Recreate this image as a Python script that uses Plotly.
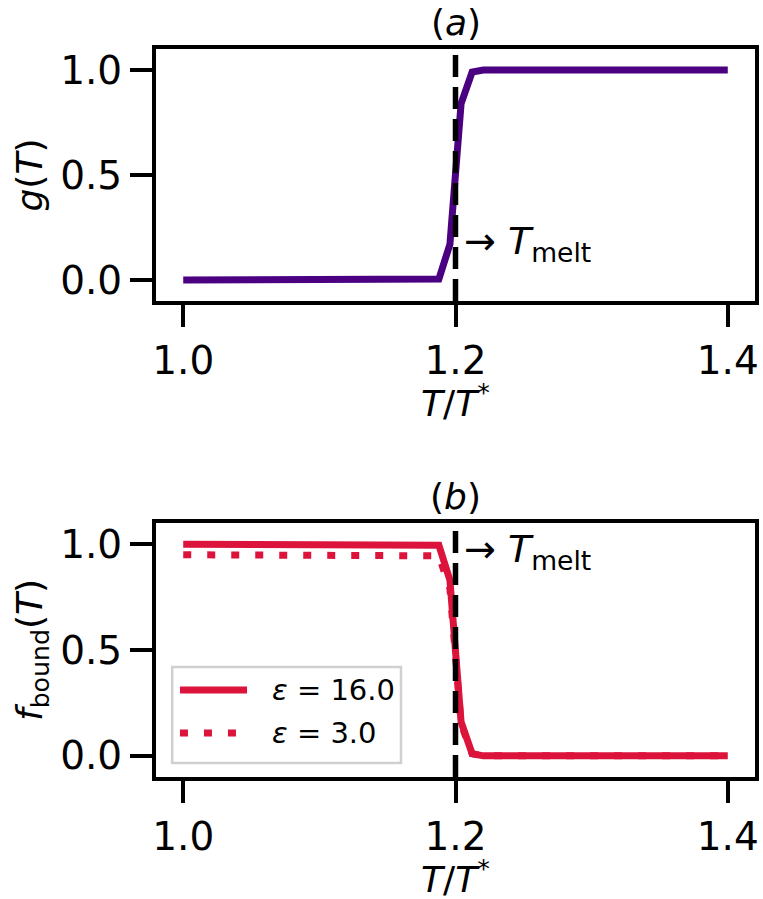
import plotly.graph_objects as go
from plotly.subplots import make_subplots

# values
t_ratio = [1.0, 1.1878, 1.1959, 1.2041, 1.2122, 1.2204, 1.4]
g_T = [0.0, 0.005, 0.17, 0.84, 0.99, 1.0, 1.0]
f_bound_eps16 = [1.0, 0.995, 0.83, 0.16, 0.01, 0.0, 0.0]
f_bound_eps3 = [0.95, 0.945, 0.79, 0.15, 0.01, 0.0, 0.0]

t_melt = 1.2
x_ticks = [1.0, 1.2, 1.4]
y_ticks = [0.0, 0.5, 1.0]
legend_labels = ["<i>ε</i> = 16.0", "<i>ε</i> = 3.0"]

PURPLE = "#4B0082"
RED = "#DC143C"
FONT = "DejaVu Sans"
DOTS = "8px,16px"

fig = make_subplots(rows=2, cols=1, vertical_spacing=0.3)

fig.add_trace(
    go.Scatter(x=t_ratio, y=g_T, mode="lines", line=dict(color=PURPLE, width=7),
               showlegend=False),
    row=1, col=1,
)
fig.add_trace(
    go.Scatter(x=t_ratio, y=f_bound_eps3, mode="lines",
               line=dict(color=RED, width=7, dash=DOTS),
               name=legend_labels[1], showlegend=False),
    row=2, col=1,
)
fig.add_trace(
    go.Scatter(x=t_ratio, y=f_bound_eps16, mode="lines",
               line=dict(color=RED, width=7),
               name=legend_labels[0], showlegend=False),
    row=2, col=1,
)

axis_style = dict(
    showline=True, linecolor="black", linewidth=4, mirror=True,
    ticks="outside", ticklen=22, tickwidth=4, tickcolor="black",
    showgrid=False, zeroline=False, automargin=False,
    tickfont=dict(family=FONT, size=39, color="black"),
)

for r in (1, 2):
    fig.update_xaxes(range=[0.98, 1.42], tickvals=x_ticks, tickformat=".1f",
                     row=r, col=1, **axis_style)
    fig.update_yaxes(range=[-0.1, 1.1], tickvals=y_ticks, tickformat=".1f",
                     row=r, col=1, **axis_style)
    fig.add_vline(x=t_melt, line=dict(color="black", width=5.5, dash="22px,10px"),
                  row=r, col=1)

fig.update_yaxes(title=dict(text="<i>g</i>(<i>T</i>)", standoff=8,
                            font=dict(family=FONT, size=36, color="black")),
                 row=1, col=1)
fig.update_yaxes(title=dict(text="<i>f</i><sub>bound</sub>(<i>T</i>)", standoff=8,
                            font=dict(family=FONT, size=36, color="black")),
                 row=2, col=1)

fig.update_layout(
    width=763, height=899,
    margin=dict(l=156, r=8, t=49, b=122, autoexpand=False),
    plot_bgcolor="white", paper_bgcolor="white",
    font=dict(family=FONT, color="black"),
    showlegend=False,
    xaxis=dict(domain=[0, 1]),
    yaxis=dict(domain=[0.6538, 1.0]),
    yaxis2=dict(domain=[0.0, 0.3489]),
)

# panel titles and x-axis titles
for label, xr, yr in [("(<i>a</i>)", "x domain", "y domain"), ("(<i>b</i>)", "x2 domain", "y2 domain")]:
    fig.add_annotation(text=label, xref=xr, yref=yr, x=0.5, y=1.0, yshift=27,
                       xanchor="center", yanchor="middle", showarrow=False,
                       font=dict(family=FONT, size=36, color="black"))
    fig.add_annotation(text="<i>T</i>/<i>T</i><sup>*</sup>", xref=xr, yref=yr,
                       x=0.5, y=0.0, yshift=-100, xanchor="center", yanchor="middle",
                       showarrow=False, font=dict(family=FONT, size=36, color="black"))

fig.add_annotation(text="→ <i>T</i><sub>melt</sub>", xref="x", yref="y",
                   x=t_melt, y=0.176, xanchor="left", yanchor="middle", xshift=6,
                   showarrow=False, font=dict(family=FONT, size=38, color="black"))
fig.add_annotation(text="→ <i>T</i><sub>melt</sub>", xref="x2", yref="y2",
                   x=t_melt, y=0.967, xanchor="left", yanchor="middle", xshift=6,
                   showarrow=False, font=dict(family=FONT, size=38, color="black"))

# legend box drawn in the lower panel
fig.add_shape(type="rect", xref="x2 domain", yref="y2 domain",
              x0=0.027, x1=0.409, y0=0.055, y1=0.433,
              line=dict(color="#d0d0d0", width=2.5), fillcolor="rgba(255,255,255,0.8)")
for i, (label, dash) in enumerate(zip(legend_labels, ["solid", DOTS])):
    y_pos = 0.3425 - i * 0.1693
    fig.add_shape(type="line", xref="x2 domain", yref="y2 domain",
                  x0=0.040, x1=0.152, y0=y_pos, y1=y_pos,
                  line=dict(color=RED, width=7, dash=dash))
    fig.add_annotation(text=label, xref="x2 domain", yref="y2 domain",
                       x=0.19, y=y_pos, xanchor="left", yanchor="middle",
                       showarrow=False, font=dict(family=FONT, size=29, color="black"))

fig.write_html("out.html", config={"displayModeBar": False},
               post_script="document.body.style.margin='0px';")
